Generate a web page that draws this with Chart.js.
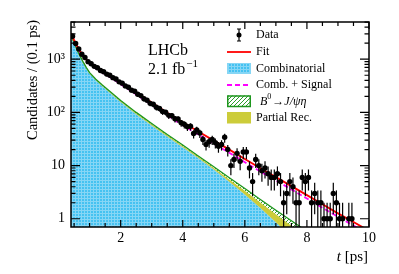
<!DOCTYPE html>
<html>
<head>
<meta charset="utf-8">
<script src="https://cdn.jsdelivr.net/npm/chart.js@4.4.0/dist/chart.umd.min.js"></script>
<style>
html, body { margin: 0; padding: 0; background: #fff; }
#caixa { width: 399px; height: 274px; }
</style>
</head>
<body>
<div id="caixa"><canvas id="grafico_tempo" width="399" height="274"></canvas></div>
<script>
// centros dos bins de tempo (ps) e candidatos por 0.1 ps
var tempos = [0.45, 0.55, 0.65, 0.75, 0.85, 0.95, 1.05, 1.15, 1.25, 1.35, 1.45, 1.55, 1.65, 1.75, 1.85, 1.95,
    2.05, 2.15, 2.25, 2.35, 2.45, 2.55, 2.65, 2.75, 2.85, 2.95, 3.05, 3.15, 3.25, 3.35, 3.45, 3.55, 3.65, 3.75,
    3.85, 3.95, 4.05, 4.15, 4.25, 4.35, 4.45, 4.55, 4.65, 4.75, 4.85, 4.95, 5.05, 5.15, 5.25, 5.35, 5.45, 5.55,
    5.65, 5.75, 5.85, 5.95, 6.05, 6.15, 6.25, 6.35, 6.45, 6.55, 6.65, 6.75, 6.85, 6.95, 7.05, 7.15, 7.25, 7.35,
    7.45, 7.55, 7.65, 7.75, 7.85, 7.95, 8.05, 8.15, 8.25, 8.35, 8.45, 8.55, 8.65, 8.75, 8.85, 8.95, 9.05, 9.15,
    9.25, 9.35, 9.45];
var candidatos = [2700, 1980, 1560, 1240, 1080, 900, 820, 735, 690, 615, 580, 525, 500, 450, 425, 375,
    355, 315, 298, 262, 250, 220, 207, 180, 170, 148, 142, 125, 119, 104, 101, 88, 87, 76,
    75, 64, 60, 54, 55, 40, 47, 41, 31, 25, 28, 31, 27, 23, 25, 34, 20, 10,
    13, 17, 12, 18, 18, 9, 5, 13, 10, 8, 9, 7, 6, 6, 7, 5, 2, 3,
    5, 4, 2, 2, 6, 5, 6, 2, 3, 2, 2, 1, 1, 1, 3, 2, 1, 1,
    0, 1, 1];

// componentes do ajuste
var tGrade = [0.4, 0.5, 0.6, 0.7, 0.8, 0.9, 1.0, 1.2, 1.4, 1.6, 1.8, 2.0, 2.5, 3.0, 3.5, 4.0, 4.5, 5.0,
    5.5, 6.0, 6.5, 7.0, 7.5, 8.0, 8.5, 9.0, 9.5, 10.0];
var combinatorio = [2774, 1968, 1430, 1084, 836, 662, 538, 400, 313, 250, 197, 157, 92.5, 57, 35.3, 22.2, 13.9, 8.4,
    4.95, 2.85, 1.6, 0.86, 0.45, 0.22, 0.11, 0.055, 0.028, 0.014];
var parcial = [58, 41, 30, 23, 17, 14, 11, 10, 9, 8, 7, 6, 4, 2.6, 1.7, 1.1, 0.7, 0.6,
    0.55, 0.5, 0.42, 0.36, 0.29, 0.22, 0.16, 0.11, 0.08, 0.055];
var b0eta = [58, 41, 30, 23, 17, 14, 11, 10, 8, 7, 6, 5, 3.5, 2.3, 1.5, 1.0, 0.6, 0.5,
    0.4, 0.35, 0.28, 0.23, 0.18, 0.14, 0.10, 0.07, 0.05, 0.035];
var sinal = [200, 230, 255, 270, 280, 285, 288, 285, 270, 250, 225, 200, 140, 92, 60, 41, 28.5, 20,
    14, 9.6, 6.6, 4.6, 3.2, 2.2, 1.5, 1.03, 0.71, 0.49];
// curva tracejada "Comb. + Signal"
var combSinal = [2950, 2180, 1670, 1340, 1100, 930, 810, 670, 565, 482, 405, 340, 218, 138, 87, 57.5, 38.3, 25.8,
    17.4, 11.6, 7.75, 5.25, 3.57, 2.4, 1.61, 1.09, 0.745, 0.505];

var ticksX = [2, 4, 6, 8, 10];
var ticksY = [1, 10, 100, 1000];
var rotulosY = { 1: '1', 10: '10', 100: '10\u00B2', 1000: '10\u00B3' };

var SERIF = '"Liberation Serif", "Times New Roman", serif';

var ctx = document.getElementById('grafico_tempo').getContext('2d');

function padraoCiano() {
    var c = document.createElement('canvas');
    c.width = 3; c.height = 3;
    var g = c.getContext('2d');
    g.fillStyle = '#45c2f1';
    g.fillRect(0, 0, 3, 3);
    g.fillStyle = '#86d6f5';
    g.fillRect(0, 0, 3, 1);
    g.fillRect(0, 0, 1, 3);
    return ctx.createPattern(c, 'repeat');
}

function padraoVerde() {
    var c = document.createElement('canvas');
    c.width = 4; c.height = 4;
    var g = c.getContext('2d');
    g.fillStyle = '#ffffff';
    g.fillRect(0, 0, 4, 4);
    g.strokeStyle = '#2a9d2a';
    g.lineWidth = 1;
    g.beginPath();
    g.moveTo(0, 4); g.lineTo(4, 0);
    g.moveTo(-1, 1); g.lineTo(1, -1);
    g.moveTo(3, 5); g.lineTo(5, 3);
    g.stroke();
    return ctx.createPattern(c, 'repeat');
}

var ciano = padraoCiano();
var hachura = padraoVerde();

function pontos(valores) {
    return tGrade.map(function (t, i) { return { x: t, y: valores[i] }; });
}

var topoC = combinatorio.slice();
var topoP = combinatorio.map(function (v, i) { return v + parcial[i]; });
var topoE = topoP.map(function (v, i) { return v + b0eta[i]; });
var ajuste = topoE.map(function (v, i) { return v + sinal[i]; });

var dados = [];
tempos.forEach(function (t, i) {
    if (candidatos[i] > 0) dados.push({ x: t, y: candidatos[i] });
});

var barrasErro = {
    id: 'barrasErro',
    beforeDatasetDraw: function (chart, args) {
        if (args.index !== 0) return;
        var c = chart.ctx, a = chart.chartArea;
        var x = chart.scales.x, y = chart.scales.y;
        c.save();
        c.beginPath();
        c.rect(a.left, a.top, a.right - a.left, a.bottom - a.top);
        c.clip();
        c.strokeStyle = '#000';
        c.lineWidth = 1.2;
        dados.forEach(function (p) {
            var s = Math.sqrt(p.y);
            var lo = Math.max(p.y - s, y.min);
            var px = x.getPixelForValue(p.x);
            c.beginPath();
            c.moveTo(px, y.getPixelForValue(p.y + s));
            c.lineTo(px, y.getPixelForValue(lo) + 1);
            c.stroke();
        });
        c.restore();
    }
};

var moldura = {
    id: 'moldura',
    afterDraw: function (chart) {
        var c = chart.ctx, a = chart.chartArea;
        var x = chart.scales.x, y = chart.scales.y;
        c.save();
        c.strokeStyle = '#000';
        c.lineWidth = 1.5;
        c.strokeRect(a.left, a.top, a.right - a.left, a.bottom - a.top);
        c.lineWidth = 1.2;
        c.beginPath();
        // x: a cada 0.5 ps, maiores nos rótulos
        for (var v = 0.5; v <= 10.001; v += 0.5) {
            var px = x.getPixelForValue(v);
            var len = ticksX.indexOf(Math.round(v * 10) / 10) >= 0 ? 7 : 4;
            c.moveTo(px, a.bottom); c.lineTo(px, a.bottom - len);
            c.moveTo(px, a.top); c.lineTo(px, a.top + len);
        }
        // y logarítmico
        for (var d = 0; d <= 3; d++) {
            for (var m = 1; m <= 9; m++) {
                var val = m * Math.pow(10, d);
                if (val < y.min || val > y.max) continue;
                var py = y.getPixelForValue(val);
                var l2 = m === 1 ? 9 : 4.5;
                c.moveTo(a.left, py); c.lineTo(a.left + l2, py);
                c.moveTo(a.right, py); c.lineTo(a.right - l2, py);
            }
        }
        c.stroke();

        // títulos
        c.fillStyle = '#000';
        c.font = '14.5px ' + SERIF;
        c.save();
        c.translate(33, 20);
        c.rotate(-Math.PI / 2);
        c.textAlign = 'right';
        c.textBaseline = 'middle';
        c.fillText('Candidates / (0.1 ps)', 0, 0);
        c.restore();

        c.textBaseline = 'alphabetic';
        c.textAlign = 'right';
        c.font = '15px ' + SERIF;
        var wPs = c.measureText(' [ps]').width;
        c.fillText(' [ps]', 368, 261);
        c.font = 'italic 15px ' + SERIF;
        c.fillText('t', 368 - wPs, 261);

        // LHCb
        c.textAlign = 'left';
        c.font = '16px ' + SERIF;
        c.fillText('LHCb', 148, 55);
        c.fillText('2.1 fb', 148, 74);
        var wFb = c.measureText('2.1 fb').width;
        c.font = '11px ' + SERIF;
        c.fillText('\u22121', 148 + wFb + 1, 67);
        c.restore();
    }
};

var legenda = {
    id: 'legenda',
    afterDraw: function (chart) {
        var c = chart.ctx;
        var x0 = 227, x1 = 251, xt = 256;
        c.save();
        c.font = '12px ' + SERIF;
        c.textBaseline = 'middle';
        c.fillStyle = '#000';
        // Data
        c.strokeStyle = '#000';
        c.lineWidth = 1.2;
        c.beginPath();
        c.moveTo(239, 29); c.lineTo(239, 41);
        c.moveTo(237, 29); c.lineTo(241, 29);
        c.moveTo(237, 41); c.lineTo(241, 41);
        c.stroke();
        c.beginPath(); c.arc(239, 35, 2.5, 0, Math.PI * 2); c.fill();
        c.fillText('Data', xt, 35);
        // Fit
        c.strokeStyle = '#ff0000'; c.lineWidth = 1.8;
        c.beginPath(); c.moveTo(x0, 52); c.lineTo(x1, 52); c.stroke();
        c.fillText('Fit', xt, 52);
        // Combinatorial
        c.fillStyle = ciano; c.fillRect(x0, 63, x1 - x0, 11);
        c.strokeStyle = '#86d6f5'; c.lineWidth = 1; c.strokeRect(x0 + 0.5, 63.5, x1 - x0 - 1, 10);
        c.fillStyle = '#000';
        c.fillText('Combinatorial', xt, 68.5);
        // Comb + Signal
        c.strokeStyle = '#ff00ff'; c.lineWidth = 1.8; c.setLineDash([5, 3]);
        c.beginPath(); c.moveTo(x0, 85); c.lineTo(x1, 85); c.stroke();
        c.setLineDash([]);
        c.fillText('Comb. + Signal', xt, 85);
        // B0 -> J/psi eta
        c.fillStyle = hachura; c.fillRect(x0, 95.5, x1 - x0, 11.5);
        c.strokeStyle = '#1e961e'; c.lineWidth = 1.5; c.strokeRect(x0 + 0.75, 96, x1 - x0 - 1.5, 10.5);
        c.fillStyle = '#000';
        var xb = 260;
        c.font = 'italic 12px ' + SERIF;
        c.fillText('B', xb, 101.5);
        xb += c.measureText('B').width;
        c.font = '8px ' + SERIF;
        c.fillText('0', xb, 97);
        xb += c.measureText('0').width + 1;
        c.font = '12px ' + SERIF;
        c.fillText('\u2192', xb, 101.5);
        xb += c.measureText('\u2192').width;
        c.font = 'italic 12px ' + SERIF;
        c.fillText('J/\u03C8\u03B7', xb, 101.5);
        // Partial Rec.
        c.font = '12px ' + SERIF;
        c.fillStyle = '#cccc3a'; c.fillRect(x0, 112, x1 - x0, 11.5);
        c.fillStyle = '#000';
        c.fillText('Partial Rec.', xt, 118);
        c.restore();
    }
};

var graficoTempo = new Chart(ctx, {
    type: 'line',
    data: {
        datasets: [{
            label: 'Data',
            data: dados,
            showLine: false,
            pointRadius: 2.7,
            pointBackgroundColor: '#000',
            pointBorderWidth: 0,
            borderColor: '#000'
        }, {
            label: 'Fit',
            data: pontos(ajuste),
            borderColor: '#ff0000',
            borderWidth: 1.9,
            pointRadius: 0,
            fill: false
        }, {
            label: 'Comb. + Signal',
            data: pontos(combSinal),
            borderColor: '#ff00ff',
            borderWidth: 1.8,
            borderDash: [5, 3],
            pointRadius: 0,
            fill: false
        }, {
            label: 'B0 -> J/psi eta',
            data: pontos(topoE),
            borderColor: '#1e961e',
            borderWidth: 1.3,
            backgroundColor: hachura,
            pointRadius: 0,
            fill: 4
        }, {
            label: 'Partial Rec.',
            data: pontos(topoP),
            borderColor: '#cccc3a',
            borderWidth: 1,
            backgroundColor: '#cccc3a',
            pointRadius: 0,
            fill: 5
        }, {
            label: 'Combinatorial',
            data: pontos(topoC),
            borderColor: '#86d6f5',
            borderWidth: 0.5,
            backgroundColor: ciano,
            pointRadius: 0,
            fill: 'start'
        }]
    },
    options: {
        responsive: false,
        animation: false,
        layout: { padding: { left: 0, right: 30, top: 22, bottom: 0 } },
        plugins: {
            legend: { display: false },
            tooltip: { enabled: false }
        },
        scales: {
            x: {
                type: 'linear',
                min: 0.4,
                max: 10,
                grid: { display: false, drawTicks: false },
                border: { display: false },
                afterBuildTicks: function (s) { s.ticks = ticksX.map(function (v) { return { value: v }; }); },
                afterFit: function (s) { s.height = 47; },
                ticks: {
                    padding: 3,
                    color: '#000',
                    maxRotation: 0,
                    autoSkip: false,
                    font: { family: SERIF, size: 14 }
                }
            },
            y: {
                type: 'logarithmic',
                min: 0.716,
                max: 5010,
                grid: { display: false, drawTicks: false },
                border: { display: false },
                afterBuildTicks: function (s) { s.ticks = ticksY.map(function (v) { return { value: v }; }); },
                afterFit: function (s) { s.width = 71; },
                ticks: {
                    padding: 6,
                    color: '#000',
                    autoSkip: false,
                    font: { family: SERIF, size: 14 },
                    callback: function (v) { return rotulosY[v] || ''; }
                }
            }
        }
    },
    plugins: [barrasErro, moldura, legenda]
});
</script>
</body>
</html>
